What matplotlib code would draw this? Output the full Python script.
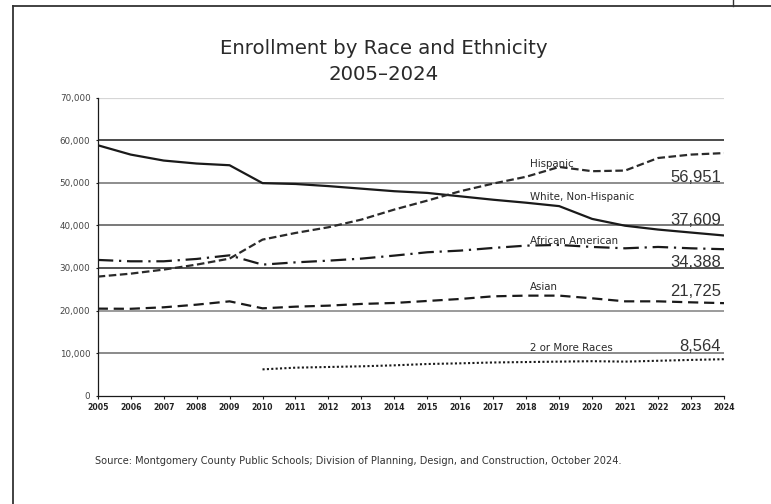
import matplotlib
matplotlib.use("Agg")
import matplotlib.pyplot as plt
from matplotlib.lines import Line2D
from matplotlib.ticker import FuncFormatter

years = list(range(2005, 2025))

white = [58800, 56600, 55200, 54500, 54100, 49900, 49700, 49200, 48600, 48000,
         47600, 46800, 46000, 45300, 44500, 41500, 39900, 39000, 38300, 37609]
hispanic = [27950, 28650, 29600, 30770, 32180, 36640, 38200, 39540, 41340, 43700,
            45800, 48000, 49800, 51400, 53700, 52700, 52850, 55800, 56600, 56951]
african_american = [31870, 31550, 31550, 32100, 32950, 30770, 31300, 31700, 32180, 32890,
                    33670, 34060, 34690, 35230, 35390, 34920, 34600, 34920, 34600, 34388]
asian = [20440, 20400, 20750, 21370, 22150, 20510, 20900, 21140, 21540, 21770,
         22240, 22710, 23330, 23490, 23490, 22860, 22150, 22150, 21920, 21725]
years_multi = list(range(2010, 2025))
multi = [6180, 6580, 6740, 6900, 7130, 7440, 7600, 7800, 7900, 8000,
         8100, 8000, 8200, 8400, 8564]

series_names = ["Hispanic", "White, Non-Hispanic", "African American", "Asian", "2 or More Races"]
end_labels = ["56,951", "37,609", "34,388", "21,725", "8,564"]
y_ticks = [0, 10000, 20000, 30000, 40000, 50000, 60000, 70000]

title = "Enrollment by Race and Ethnicity\n2005\u20132024"
source = ("Source: Montgomery County Public Schools; Division of Planning, Design, "
          "and Construction, October 2024.")

W, H = 771, 504
fig = plt.figure(figsize=(W / 100, H / 100), dpi=100)
fig.patch.set_facecolor("white")

def fx(px):
    return px / W

def fy(py):
    return 1 - py / H

ax = fig.add_axes([fx(97.7), fy(395.7), fx(724) - fx(97.7), fy(97.5) - fy(395.7)])
ax.set_xlim(2005, 2024)
ax.set_ylim(0, 70000)

# gridlines
grid_colors = {10000: "#8a8a8a", 20000: "#8a8a8a", 30000: "#222222", 40000: "#555555",
               50000: "#7a7a7a", 60000: "#1a1a1a", 70000: "#d6d6d6"}
grid_lw = {10000: 1.4, 20000: 1.2, 30000: 1.1, 40000: 1.1, 50000: 1.2, 60000: 1.1, 70000: 1.6}
for v in y_ticks[1:]:
    ax.axhline(v, color=grid_colors[v], lw=grid_lw[v], zorder=1)

ax.plot(years, white, color="#1a1a1a", lw=1.6, solid_capstyle="butt", zorder=3)
ax.plot(years, hispanic, color="#2a2a2a", lw=1.6, dashes=(3.4, 1.6), zorder=3)
ax.plot(years, african_american, color="#1a1a1a", lw=1.6, dashes=(7, 2.6, 1.0, 2.6), zorder=3)
ax.plot(years, asian, color="#1a1a1a", lw=1.6, dashes=(4.6, 2.6), zorder=3)
ax.plot(years_multi, multi, color="#1a1a1a", lw=1.5, linestyle=(0, (1, 1.1)), zorder=3)

for s in ["top", "right"]:
    ax.spines[s].set_visible(False)
for s in ["left", "bottom"]:
    ax.spines[s].set_color("#1a1a1a")
    ax.spines[s].set_linewidth(0.9)

ax.set_yticks(y_ticks)
ax.yaxis.set_major_formatter(FuncFormatter(lambda v, p: f"{int(v):,}"))
ax.set_xticks(years)
ax.tick_params(axis="y", length=1.6, width=0.8, pad=3.6, labelsize=6.3, labelcolor="#444444", color="#1a1a1a")
ax.tick_params(axis="x", length=2.4, width=0.8, pad=2.6, labelsize=5.6, color="#1a1a1a")
for lab in ax.get_xticklabels():
    lab.set_fontweight("bold")
    lab.set_color("#222222")

# series labels (left at x ~530 px)
label_x = 2005 + (530 - 97.7) / (724 - 97.7) * 19
label_baselines = [166.7, 200.0, 243.7, 290.0, 351.0]
val_baselines = [182.3, 225.3, 266.7, 295.7, 351.0]

def y_from_px(py):
    return (395.7 - py) / (395.7 - 97.5) * 70000

for name, by in zip(series_names, label_baselines):
    ax.text(label_x, y_from_px(by), name, fontsize=7.4, color="#2a2a2a", ha="left", va="baseline", zorder=4)

val_x = 2005 + (721 - 97.7) / (724 - 97.7) * 19
for lab, by in zip(end_labels, val_baselines):
    ax.text(val_x, y_from_px(by), lab, fontsize=12, family="Liberation Sans", color="#333333",
            ha="right", va="baseline", zorder=4)

fig.text(fx(384), fy(53.5), "Enrollment by Race and Ethnicity", fontsize=14.2, color="#2a2a2a",
         ha="center", va="baseline")
fig.text(fx(384), fy(80), "2005\u20132024", fontsize=14.2, color="#2a2a2a", ha="center", va="baseline")

fig.text(fx(95), fy(461), source, fontsize=7.1, color="#333333", ha="left", va="center")

# frame lines
fig.add_artist(Line2D([fx(12.7), 1.0], [fy(6), fy(6)], transform=fig.transFigure, color="#333333", lw=1.3))
fig.add_artist(Line2D([fx(12.7), fx(12.7)], [fy(6), 0.0], transform=fig.transFigure, color="#333333", lw=1.3))
fig.add_artist(Line2D([fx(733), fx(733)], [fy(6), 1.0], transform=fig.transFigure, color="#333333", lw=1.0))

fig.savefig("out.png", dpi=100)
